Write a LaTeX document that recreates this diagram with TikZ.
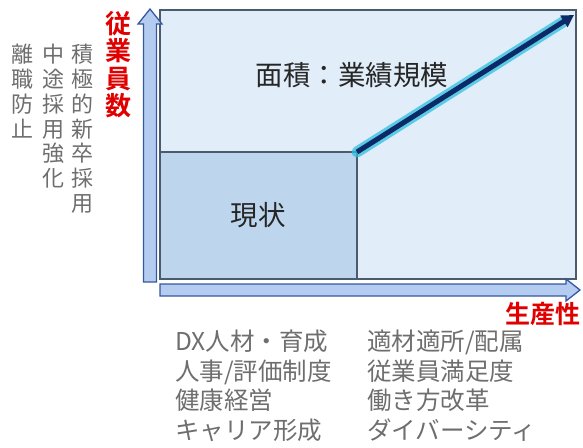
\documentclass[tikz,border=0pt]{standalone}
\usepackage{fontspec}
\newfontfamily\jp{Noto Sans CJK JP}
\newfontfamily\jpb{Noto Sans CJK JP Bold}
\usetikzlibrary{arrows.meta,calc}
\definecolor{bigfill}{HTML}{E1EDF8}
\definecolor{smallfill}{HTML}{BDD6EE}
\definecolor{boxline}{HTML}{4A5B6E}
\definecolor{arrfill}{HTML}{B4CCF0}
\definecolor{arrline}{HTML}{3558A0}
\definecolor{redlab}{HTML}{E00000}
\definecolor{graytxt}{HTML}{6E6E6E}
\definecolor{navy}{HTML}{0B2A66}
\definecolor{glow}{HTML}{2EBFE0}
\tikzset{
  box/.style={draw=boxline, line width=2pt},
  axisarrow/.style={draw=arrline, fill=arrfill, line width=1.3pt, line join=miter},
  grayv/.style={text=graytxt, font=\jp\fontsize{22}{24.8}\selectfont, align=center, anchor=north, inner sep=0pt},
  redv/.style={text=redlab, font=\jpb\fontsize{26}{27.5}\selectfont, align=center, anchor=north, inner sep=0pt},
  bodytxt/.style={text=black!85, font=\jp\fontsize{27.5}{30}\selectfont, inner sep=0pt},
  listtxt/.style={text=graytxt, font=\jp\fontsize{24.5}{29.5}\selectfont, align=left, anchor=north west, inner sep=0pt},
}
\begin{document}
\begin{tikzpicture}[x=1pt,y=-1pt]
\useasboundingbox (0,0) rectangle (583,447);
% big area
\draw[box, fill=bigfill] (160,10) rectangle (576,279);
\draw[box, fill=smallfill] (160,152) rectangle (357,279);
\coordinate (cornerA) at (357,152);
\coordinate (cornerB) at (574,15);
% vertical axis arrow
\draw[axisarrow] (143.5,282) -- (143.5,24) -- (138,24) -- (150,9) -- (162,24) -- (156.5,24) -- (156.5,282) -- cycle;
% horizontal axis arrow
\draw[axisarrow] (160,284) -- (566,284) -- (566,279) -- (580,290) -- (566,301) -- (566,296) -- (160,296) -- cycle;
% diagonal arrow
\draw[glow, line width=11pt, opacity=0.75, line cap=round] (cornerA) -- ($(cornerA)!0.95!(cornerB)$);
\draw[navy, line width=5pt, -{Triangle[length=12pt,width=13pt]}] (cornerA) -- (cornerB);
% texts
\node[bodytxt] (area) at (352,75) {面積：業績規模};
\node[bodytxt] (now) at (258,215) {現状};
\node[redv] (yl) at (118,11) {従\\業\\員\\数};
\node[grayv] (g1) at (82,44) {積\\極\\的\\新\\卒\\採\\用};
\node[grayv] (g2) at (53,44) {中\\途\\採\\用\\強\\化};
\node[grayv] (g3) at (23,44) {離\\職\\防\\止};
\node[text=redlab, font=\jpb\fontsize{25}{27}\selectfont, anchor=east, inner sep=0pt] (xl) at (581,314) {生産性};
\node[listtxt] (l1) at (175,330) {DX人材・育成\\人事/評価制度\\健康経営\\キャリア形成};
\node[listtxt] (l2) at (367,330) {適材適所/配属\\従業員満足度\\働き方改革\\ダイバーシティ};
\end{tikzpicture}
\end{document}
